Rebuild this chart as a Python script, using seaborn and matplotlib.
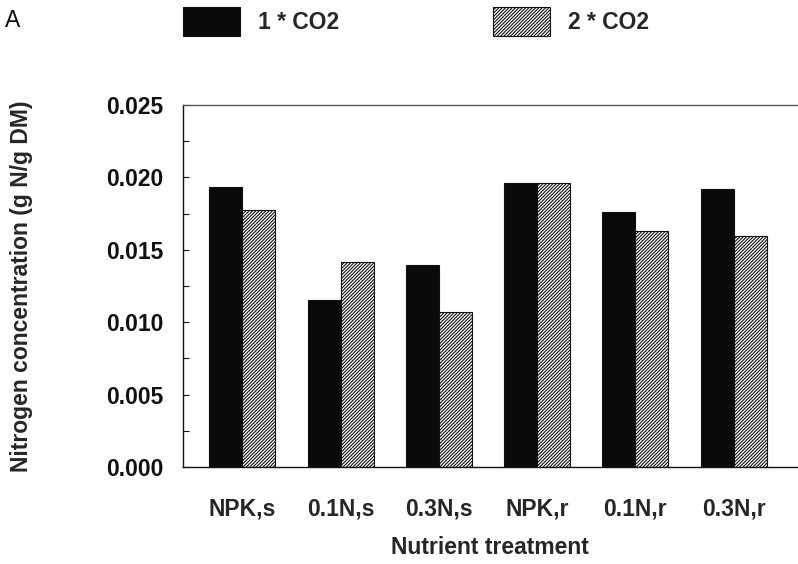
"""Nitrogen concentration by nutrient treatment at ambient and doubled CO2."""

import matplotlib

matplotlib.use("Agg")
import matplotlib.pyplot as plt
import pandas as pd
import seaborn as sns
from matplotlib.ticker import FormatStrFormatter, MultipleLocator

TREATMENTS = ["NPK,s", "0.1N,s", "0.3N,s", "NPK,r", "0.1N,r", "0.3N,r"]
CO2_LEVELS = ["1 * CO2", "2 * CO2"]
N_1X = [0.01936, 0.01151, 0.01397, 0.01961, 0.01761, 0.01918]
N_2X = [0.01777, 0.01418, 0.01068, 0.01961, 0.01630, 0.01597]

FONT = 16.5
HATCH = "//////////"

sns.set_style("ticks")
plt.rcParams["font.family"] = ["Liberation Sans", "DejaVu Sans"]
plt.rcParams["hatch.linewidth"] = 0.8
plt.rcParams["hatch.color"] = "#222222"

df = pd.DataFrame(
    {
        "treatment": TREATMENTS * 2,
        "co2": [CO2_LEVELS[0]] * len(TREATMENTS) + [CO2_LEVELS[1]] * len(TREATMENTS),
        "nitrogen": N_1X + N_2X,
    }
)

fig = plt.figure(figsize=(7.98, 5.64), dpi=100)
ax = fig.add_axes([183 / 798, 97 / 564, 614 / 798, 362 / 564])

sns.barplot(
    data=df,
    x="treatment",
    y="nitrogen",
    hue="co2",
    order=TREATMENTS,
    hue_order=CO2_LEVELS,
    palette=["#0a0a0a", "white"],
    width=0.672,
    gap=0,
    saturation=1,
    errorbar=None,
    edgecolor="#111111",
    linewidth=0.8,
    ax=ax,
)

# hatch the doubled-CO2 bars
n = len(TREATMENTS)
for bar in ax.patches[n : 2 * n]:
    bar.set_hatch(HATCH)

handles, labels = ax.get_legend_handles_labels()
ax.legend_.remove()
handles[1].set_hatch(HATCH)
for h in handles:
    h.set_edgecolor("#111111")
    h.set_linewidth(0.8)
fig.legend(
    handles,
    labels,
    loc="upper left",
    bbox_to_anchor=(183 / 798, 1 - 7 / 564),
    ncol=2,
    frameon=False,
    borderpad=0,
    borderaxespad=0,
    handlelength=2.5,
    handleheight=1.55,
    handletextpad=0.78,
    columnspacing=6.7,
    prop={"size": FONT, "weight": "bold"},
)

ax.set_ylim(0, 0.025)
ax.set_xlim(-0.6035, 5.6445)
ax.yaxis.set_major_locator(MultipleLocator(0.005))
ax.yaxis.set_minor_locator(MultipleLocator(0.0025))
ax.yaxis.set_major_formatter(FormatStrFormatter("%.3f"))
ax.tick_params(axis="y", which="both", direction="in", length=4, width=0.8,
               pad=14, labelsize=FONT, colors="#111111")
ax.tick_params(axis="x", length=0, pad=22, labelsize=FONT)
for lab in ax.get_xticklabels() + ax.get_yticklabels():
    lab.set_fontweight("bold")

ax.set_xlabel("Nutrient treatment", fontsize=FONT, fontweight="bold")
ax.set_ylabel("Nitrogen concentration (g N/g DM)", fontsize=FONT, fontweight="bold")
ax.xaxis.set_label_coords(0.5, -0.1917)
ax.yaxis.set_label_coords(-0.244, 0.5)

ax.spines["right"].set_visible(False)
for side in ["left", "bottom"]:
    ax.spines[side].set_color("#111111")
    ax.spines[side].set_linewidth(1.0)
ax.spines["top"].set_color("#555555")
ax.spines["top"].set_linewidth(1.0)

fig.text(5 / 798, 1 - 27 / 564, "A", fontsize=16.5, color="#111111")

fig.savefig("out.png", dpi=100)
